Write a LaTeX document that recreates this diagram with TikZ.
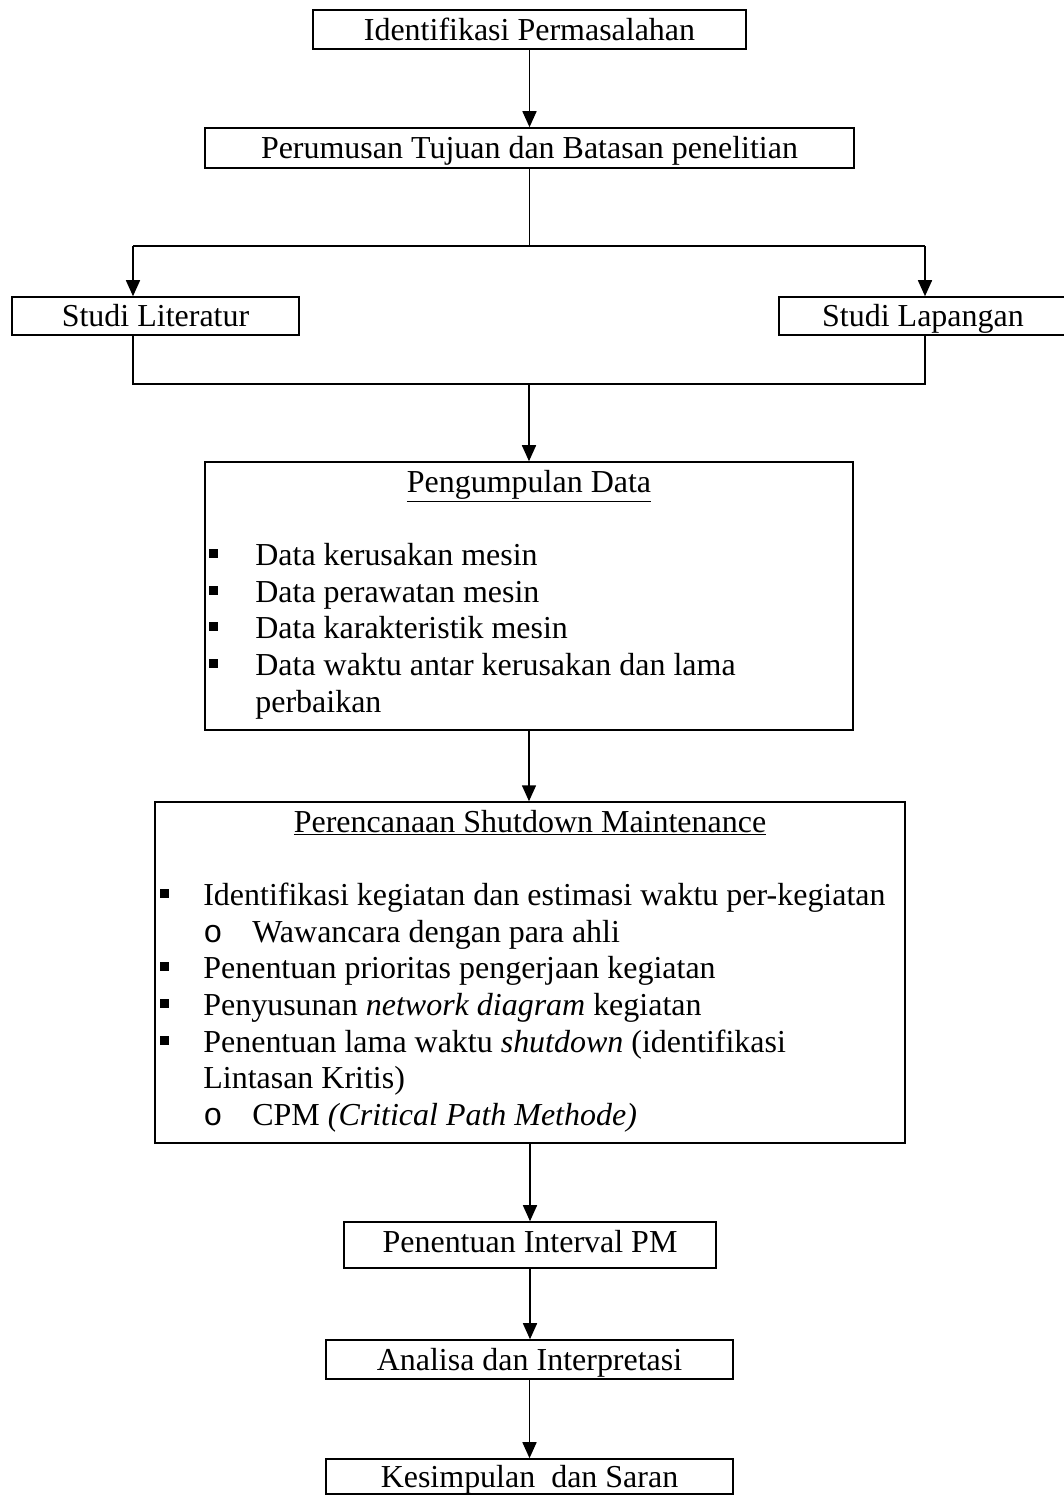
\documentclass[tikz,border=0pt]{standalone}
\usepackage{fontspec}
\setmainfont{Liberation Serif}
\newfontfamily\hurufmono{Liberation Mono}
\usetikzlibrary{arrows.meta,positioning}

\newcommand{\peluru}[1][0.92cm]{\makebox[#1][l]{\raisebox{0.14cm}{\rule{0.18cm}{0.18cm}}}}
\newcommand{\subbutir}{\makebox[0.98cm][l]{\hurufmono o}}

\tikzset{
    kotak/.style={draw, line width=0.9pt, inner sep=0pt, text height=14pt, text depth=1.5pt},
    panah/.style={-{Triangle[length=0.32cm,width=0.28cm]}, line width=0.9pt},
    garis/.style={line width=0.9pt},
    isi/.style={anchor=base west, inner sep=0pt},
}

\begin{document}
\begin{tikzpicture}[x=0.02cm, y=-0.02cm, font=\fontsize{18.2pt}{21pt}\selectfont]
\useasboundingbox (0,0) rectangle (1064,1495);

    \node[kotak, minimum width=8.66cm, minimum height=0.78cm] (identifikasi) at (529.5,29.5) {Identifikasi Permasalahan};
    \node[kotak, minimum width=12.98cm, minimum height=0.8cm] (rumusan) at (529.5,148) {Perumusan Tujuan dan Batasan penelitian};
    \node[kotak, minimum width=5.74cm, minimum height=0.76cm] (literatur) at (155.5,316) {Studi Literatur};
    \node[kotak, minimum width=5.76cm, minimum height=0.76cm] (lapangan) at (923,316) {Studi Lapangan};
    \node[kotak, minimum width=12.96cm, minimum height=5.36cm] (kumpul) at (529,596) {};
    \node[kotak, minimum width=15cm, minimum height=6.82cm] (rencana) at (530,972.5) {};
    \node[kotak, minimum width=7.44cm, minimum height=0.92cm, text depth=6pt] (interval) at (530,1245) {Penentuan Interval PM};
    \node[kotak, minimum width=8.14cm, minimum height=0.78cm] (analisa) at (529.5,1359.5) {Analisa dan Interpretasi};
    \node[kotak, minimum width=8.14cm, minimum height=0.7cm] (kesimpulan) at (529.5,1476.5) {Kesimpulan\ \ dan Saran};

    \node[isi, anchor=base] (judulkumpul) at (529,492) {\underline{Pengumpulan Data}};
    \node[isi] (data1) at (209,565) {\peluru Data kerusakan mesin};
    \node[isi] (data2) at (209,602) {\peluru Data perawatan mesin};
    \node[isi] (data3) at (209,638) {\peluru Data karakteristik mesin};
    \node[isi] (data4) at (209,675) {\peluru Data waktu antar kerusakan dan lama};
    \node[isi] (data5) at (255,712) {perbaikan};

    \node[isi, anchor=base] (judulrencana) at (530,832) {\underline{Perencanaan Shutdown Maintenance}};
    \node[isi] (langkah1) at (160,905) {\peluru[0.86cm]Identifikasi kegiatan dan estimasi waktu per-kegiatan};
    \node[isi] (langkah2) at (203,942) {\subbutir Wawancara dengan para ahli};
    \node[isi] (langkah3) at (160,978) {\peluru[0.86cm]Penentuan prioritas pengerjaan kegiatan};
    \node[isi] (langkah4) at (160,1015) {\peluru[0.86cm]Penyusunan \textit{network diagram} kegiatan};
    \node[isi] (langkah5) at (160,1052) {\peluru[0.86cm]Penentuan lama waktu \textit{shutdown} (identifikasi};
    \node[isi] (langkah6) at (203,1088) {Lintasan Kritis)};
    \node[isi] (langkah7) at (203,1125) {\subbutir CPM \textit{(Critical Path Methode)}};

    \coordinate (cabangkiri) at (133,246);
    \coordinate (cabangkanan) at (925,246);
    \coordinate (gabungkiri) at (133,384);
    \coordinate (gabungkanan) at (925,384);

    \draw[panah] (identifikasi.south) -- (identifikasi.south |- rumusan.north);
    \draw[garis] (rumusan.south) -- (rumusan.south |- cabangkiri);
    \draw[garis] (cabangkiri) -- (cabangkanan);
    \draw[panah] (cabangkiri) -- (cabangkiri |- literatur.north);
    \draw[panah] (cabangkanan) -- (cabangkanan |- lapangan.north);
    \draw[garis] (literatur.south -| gabungkiri) -- (gabungkiri) -- (gabungkanan) -- (lapangan.south -| gabungkanan);
    \draw[panah] (gabungkiri -| kumpul.north) -- (kumpul.north);
    \draw[panah] (kumpul.south) -- (kumpul.south |- rencana.north);
    \draw[panah] (rencana.south) -- (rencana.south |- interval.north);
    \draw[panah] (interval.south) -- (interval.south |- analisa.north);
    \draw[panah] (analisa.south) -- (analisa.south |- kesimpulan.north);
\end{tikzpicture}
\end{document}
